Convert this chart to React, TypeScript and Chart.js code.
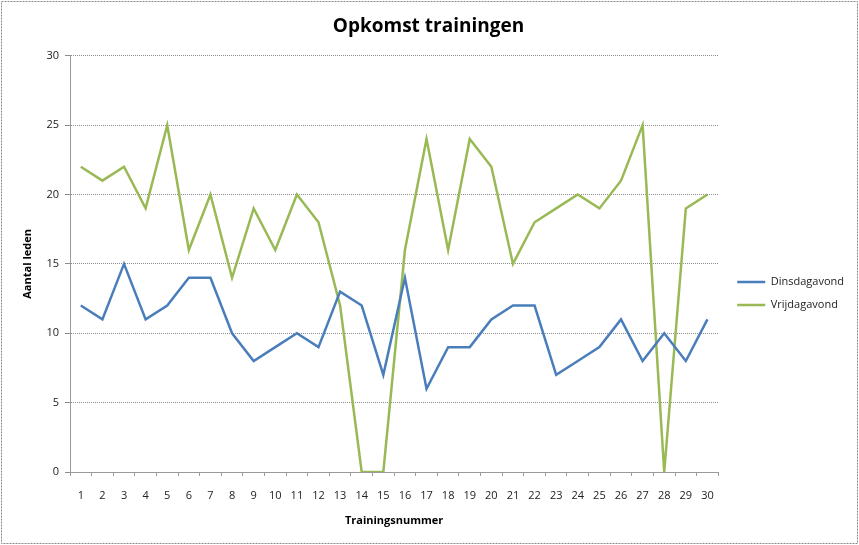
import React, { useEffect, useRef } from 'react';
import { Chart, registerables } from 'chart.js';

Chart.register(...registerables);

const trainingen = ['1', '2', '3', '4', '5', '6', '7', '8', '9', '10', '11', '12', '13', '14', '15', '16', '17', '18', '19', '20', '21', '22', '23', '24', '25', '26', '27', '28', '29', '30'];
const dinsdag = [12, 11, 15, 11, 12, 14, 14, 10, 8, 9, 10, 9, 13, 12, 7, 14, 6, 9, 9, 11, 12, 12, 7, 8, 9, 11, 8, 10, 8, 11];
const vrijdag = [22, 21, 22, 19, 25, 16, 20, 14, 19, 16, 20, 18, 12, 0, 0, 16, 24, 16, 24, 22, 15, 18, 19, 20, 19, 21, 25, 0, 19, 20];

const FONT = "'Open Sans', 'Liberation Sans', sans-serif";

// white background + dashed frame like the exported picture
const frame = {
    id: 'frame',
    beforeDraw(chart: Chart) {
        const { ctx, width, height } = chart;
        ctx.save();
        ctx.fillStyle = '#ffffff';
        ctx.fillRect(0, 0, width, height);
        ctx.strokeStyle = '#8a8a8a';
        ctx.lineWidth = 1;
        ctx.setLineDash([2, 1]);
        ctx.strokeRect(1.5, 1.5, width - 3, height - 3);
        ctx.restore();
    },
};

// excel puts the legend a bit lower and further from the plot
const legendNudge = {
    id: 'legendNudge',
    afterLayout(chart: Chart) {
        const lg = chart.legend;
        if (!lg) return;
        lg.left += 7;
        lg.right += 7;
        lg.top += 21;
        lg.bottom += 21;
    },
};

const App: React.FC = () => {
    const chartRef = useRef<HTMLCanvasElement>(null);
    const chartInstanceRef = useRef<Chart | null>(null);

    useEffect(() => {
        document.body.style.margin = '0';
        if (chartRef.current) {
            const ctx = chartRef.current.getContext('2d');
            if (ctx) {
                if (chartInstanceRef.current) {
                    chartInstanceRef.current.destroy();
                }

                chartInstanceRef.current = new Chart(ctx, {
                    type: 'line',
                    data: {
                        labels: trainingen,
                        datasets: [
                            {
                                label: 'Dinsdagavond',
                                data: dinsdag,
                                borderColor: '#4a7ebb',
                                backgroundColor: '#4a7ebb',
                                borderWidth: 2.5,
                                pointRadius: 0,
                                tension: 0,
                            },
                            {
                                label: 'Vrijdagavond',
                                data: vrijdag,
                                borderColor: '#98b954',
                                backgroundColor: '#98b954',
                                borderWidth: 2.5,
                                pointRadius: 0,
                                tension: 0,
                            },
                        ],
                    },
                    options: {
                        responsive: false,
                        animation: false,
                        layout: { padding: { left: 10, right: 12, top: 0, bottom: 0 } },
                        plugins: {
                            title: {
                                display: true,
                                text: 'Opkomst trainingen',
                                color: '#000',
                                font: { family: FONT, size: 19, weight: 'bold', lineHeight: 1.2 },
                                padding: { top: 15, bottom: 18 },
                            },
                            legend: {
                                position: 'right',
                                labels: {
                                    usePointStyle: true,
                                    pointStyle: 'line',
                                    pointStyleWidth: 28,
                                    color: '#222',
                                    font: { family: FONT, size: 11 },
                                    padding: 12,
                                },
                            },
                            tooltip: { enabled: false },
                        },
                        scales: {
                            x: {
                                offset: true,
                                grid: {
                                    offset: true,
                                    drawOnChartArea: false,
                                    drawTicks: true,
                                    tickLength: 4,
                                    color: '#9a9a9a',
                                },
                                border: { color: '#9a9a9a' },
                                ticks: {
                                    color: '#222',
                                    font: { family: FONT, size: 11 },
                                    padding: 13,
                                    maxRotation: 0,
                                    autoSkip: false,
                                },
                                title: {
                                    display: true,
                                    text: 'Trainingsnummer',
                                    color: '#000',
                                    font: { family: FONT, size: 11, weight: 'bold' },
                                    padding: { top: 4, bottom: 18 },
                                },
                                afterFit(scale) {
                                    scale.height = 73;
                                },
                            },
                            y: {
                                min: 0,
                                max: 30,
                                ticks: {
                                    stepSize: 5,
                                    color: '#222',
                                    font: { family: FONT, size: 11 },
                                    padding: 6,
                                },
                                grid: {
                                    color: '#8c8c8c',
                                    tickLength: 5,
                                },
                                border: { color: '#9a9a9a', dash: [1, 1] },
                                title: {
                                    display: true,
                                    text: 'Aantal leden',
                                    color: '#000',
                                    font: { family: FONT, size: 11, weight: 'bold' },
                                    padding: { top: 11, bottom: 0 },
                                },
                                afterFit(scale) {
                                    scale.width = 60;
                                },
                            },
                        },
                    },
                    plugins: [frame, legendNudge],
                });
            }
        }
        return () => {
            if (chartInstanceRef.current) {
                chartInstanceRef.current.destroy();
                chartInstanceRef.current = null;
            }
        };
    }, []);

    return <canvas ref={chartRef} width={859} height={545}></canvas>;
};

export default App;
